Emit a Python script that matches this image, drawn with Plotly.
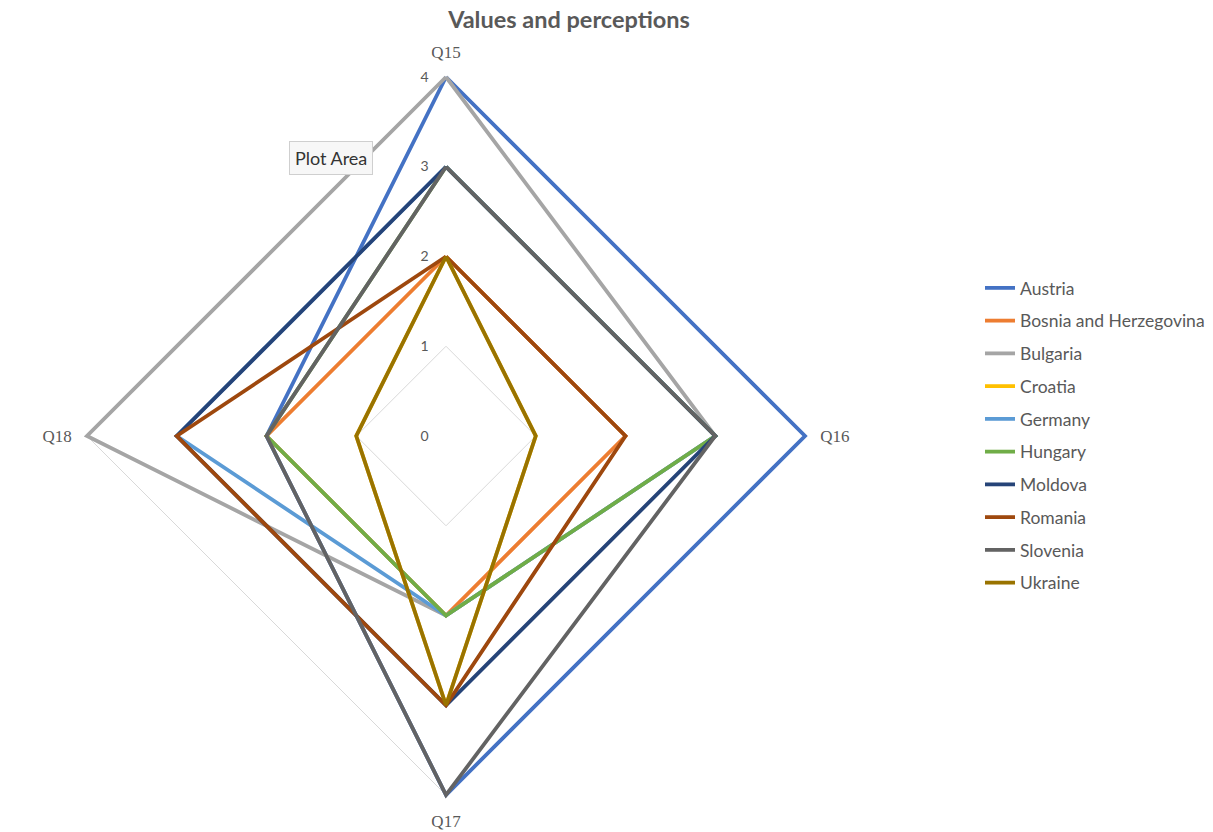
import plotly.graph_objects as go

# Survey items (radar axes), clockwise from the top
questions = ["Q15", "Q16", "Q17", "Q18"]

# Scores per country on Q15..Q18
austria = [4, 4, 4, 2]
bosnia = [2, 2, 2, 2]
bulgaria = [4, 3, 2, 4]
croatia = [2, 1, 3, 1]
germany = [3, 3, 2, 3]
hungary = [3, 3, 2, 2]
moldova = [3, 3, 3, 3]
romania = [2, 2, 3, 3]
slovenia = [3, 3, 4, 2]
ukraine = [2, 1, 3, 1]

countries = ["Austria", "Bosnia and Herzegovina", "Bulgaria", "Croatia", "Germany",
             "Hungary", "Moldova", "Romania", "Slovenia", "Ukraine"]
series = [austria, bosnia, bulgaria, croatia, germany,
          hungary, moldova, romania, slovenia, ukraine]
colors = ["#4472C4", "#ED7D31", "#A5A5A5", "#FFC000", "#5B9BD5",
          "#70AD47", "#264478", "#9E480E", "#636363", "#997300"]

radial_ticks = [0, 1, 2, 3, 4]
r_max = 4.06  # a little headroom so lines on the outer ring are not clipped

W, H = 1213, 832
cx, cy = 446, 436          # plot centre in pixels
R = 359 * r_max / 4        # frame radius so that r=4 lands 359 px out

fig = go.Figure()
for name, vals, col in zip(countries, series, colors):
    fig.add_trace(go.Scatterpolar(
        r=vals + vals[:1],
        theta=questions + questions[:1],
        mode="lines",
        name=name,
        legendgroup=name,
        line=dict(color=col, width=3.8),
        cliponaxis=False,
        hoverinfo="skip",
    ))

fig.update_layout(
    width=W, height=H,
    margin=dict(l=0, r=0, t=0, b=0),
    paper_bgcolor="white",
    plot_bgcolor="white",
    title=dict(
        text="<b>Values and perceptions</b>",
        x=569 / W, xanchor="center",
        y=1 - 20 / H, yanchor="middle",
        font=dict(family="Lato", size=23.5, color="#595959"),
    ),
    polar=dict(
        domain=dict(x=[(cx - R) / W, (cx + R) / W],
                    y=[1 - (cy + R) / H, 1 - (cy - R) / H]),
        bgcolor="white",
        gridshape="linear",
        angularaxis=dict(
            rotation=90,
            direction="clockwise",
            categoryorder="array",
            categoryarray=questions,
            showgrid=False,
            showline=False,
            layer="below traces",
            ticks="outside",
            ticklen=6,
            tickcolor="rgba(0,0,0,0)",
            tickfont=dict(family="Liberation Serif", size=17, color="#595959"),
        ),
        radialaxis=dict(
            range=[0, r_max],
            tickvals=radial_ticks,
            ticktext=[str(v) for v in radial_ticks],
            angle=90,
            tickangle=90,
            side="counterclockwise",
            showline=False,
            showgrid=True,
            gridcolor="#D9D9D9",
            gridwidth=1,
            layer="below traces",
            ticks="outside",
            ticklen=12,
            tickcolor="rgba(0,0,0,0)",
            tickfont=dict(family="Lato", size=14, color="#595959"),
        ),
    ),
    legend=dict(
        x=980 / W, xanchor="left",
        y=1 - 270 / H, yanchor="top",
        font=dict(family="Lato", size=17.5, color="#595959"),
        tracegroupgap=7,
        itemwidth=30,
        bgcolor="rgba(0,0,0,0)",
    ),
    annotations=[dict(
        text="Plot Area",
        x=331 / W, y=1 - 158 / H, xref="paper", yref="paper",
        xanchor="center", yanchor="middle",
        showarrow=False,
        font=dict(family="Lato", size=18, color="#333333"),
        bgcolor="#F7F7F7",
        bordercolor="#CFCFCF",
        borderwidth=1,
        borderpad=5,
    )],
)

fig.write_html("out.html")
